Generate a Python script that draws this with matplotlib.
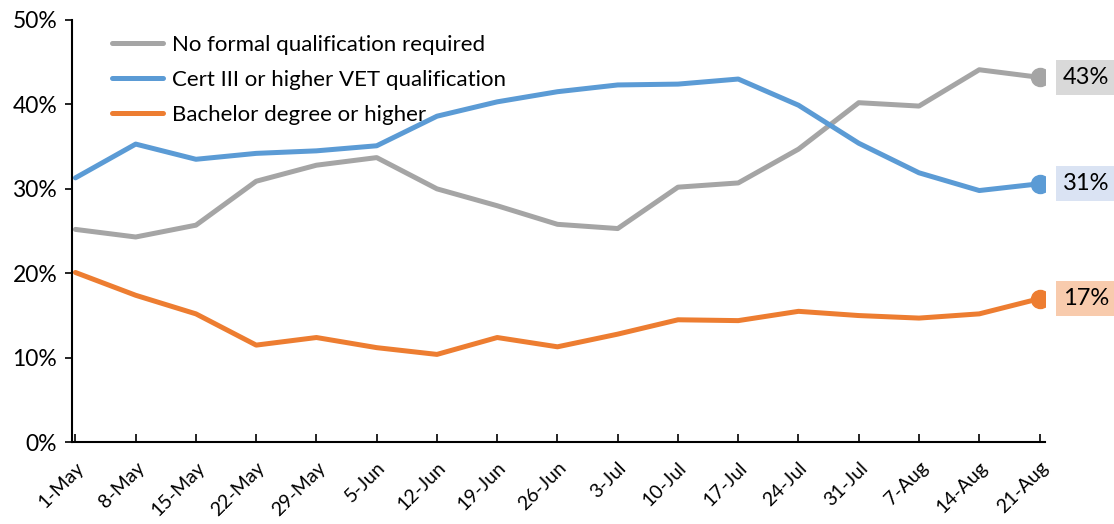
import matplotlib.pyplot as plt

plt.rcParams['font.family'] = ['Lato', 'DejaVu Sans']

weeks = ['1-May', '8-May', '15-May', '22-May', '29-May', '5-Jun', '12-Jun', '19-Jun',
         '26-Jun', '3-Jul', '10-Jul', '17-Jul', '24-Jul', '31-Jul', '7-Aug', '14-Aug', '21-Aug']

no_formal = [25.2, 24.3, 25.7, 30.9, 32.8, 33.7, 30.0, 28.0, 25.8, 25.3, 30.2, 30.7,
             34.7, 40.2, 39.8, 44.1, 43.2]
cert_iii = [31.3, 35.3, 33.5, 34.2, 34.5, 35.1, 38.6, 40.3, 41.5, 42.3, 42.4, 43.0,
            39.9, 35.4, 31.9, 29.8, 30.6]
bachelor = [20.1, 17.4, 15.2, 11.5, 12.4, 11.2, 10.4, 12.4, 11.3, 12.8, 14.5, 14.4,
            15.5, 15.0, 14.7, 15.2, 17.0]

series = [
    ('No formal qualification required', no_formal, '#a5a5a5', '#d9d9d9'),
    ('Cert III or higher VET qualification', cert_iii, '#5b9bd5', '#dae3f3'),
    ('Bachelor degree or higher', bachelor, '#ed7d31', '#f8cbad'),
]

fig = plt.figure(figsize=(11.14, 5.24), dpi=100)
ax = fig.add_axes([0.065, 0.156, 0.873, 0.806])

x = list(range(len(weeks)))
for name, vals, col, boxcol in series:
    ax.plot(x, vals, color=col, lw=3.6, label=name, solid_capstyle='round')
    ax.plot(x[-1], vals[-1], 'o', color=col, ms=13, zorder=5)
    ax.annotate(f'{vals[-1]:.0f}%', (x[-1], vals[-1]), xytext=(17, 0),
                textcoords='offset points', va='center', ha='left', fontsize=17,
                bbox=dict(boxstyle='square,pad=0.3', fc=boxcol, ec='none'),
                annotation_clip=False)

ax.set_xlim(-0.05, 16.09)
ax.set_ylim(0, 50)
ax.set_yticks([0, 10, 20, 30, 40, 50])
ax.set_yticklabels([f'{v}%' for v in range(0, 51, 10)], fontsize=16.5)
ax.set_xticks(x)
ax.set_xticklabels(weeks, rotation=45, ha='right', rotation_mode='anchor', fontsize=14)
ax.tick_params(axis='x', direction='in', length=6, width=1.2, pad=12)
ax.tick_params(axis='y', direction='out', length=5, width=1.2, pad=6)

for s in ['top', 'right']:
    ax.spines[s].set_visible(False)
for s in ['left', 'bottom']:
    ax.spines[s].set_linewidth(1.5)

ax.legend(loc='upper left', bbox_to_anchor=(0.02, 1.012), frameon=False, fontsize=16,
          handlelength=2.3, handletextpad=0.4, labelspacing=0.68)

fig.savefig('out.png', dpi=100)
